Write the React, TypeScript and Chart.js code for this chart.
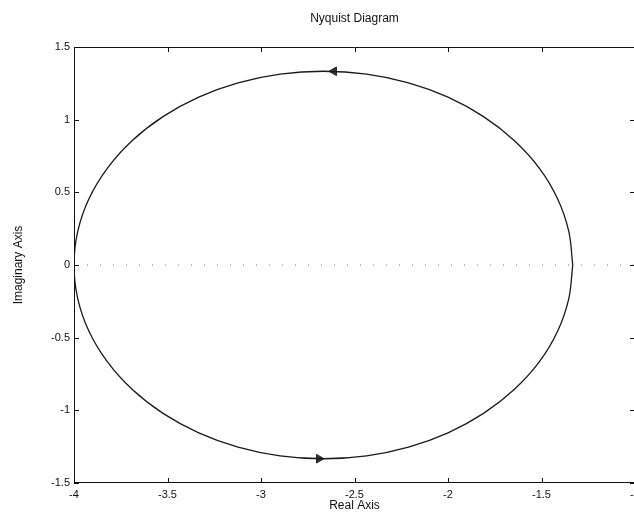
import React, { useEffect, useRef } from "react";
import { Chart, registerables } from "chart.js";

Chart.register(...registerables);

// Nyquist curve (counter-clockwise loop)
const realPart = [
  -1.333, -1.354, -1.414, -1.512, -1.646, -1.81, -2.0, -2.211, -2.435, -2.667,
  -2.898, -3.123, -3.333, -3.524, -3.688, -3.821, -3.92, -3.98, -4.0,
  -3.98, -3.92, -3.821, -3.688, -3.524, -3.333, -3.123, -2.898, -2.667,
  -2.435, -2.211, -2.0, -1.81, -1.646, -1.512, -1.414, -1.354, -1.333,
];
const imagPart = [
  0, 0.231, 0.456, 0.667, 0.857, 1.021, 1.155, 1.253, 1.313, 1.333,
  1.313, 1.253, 1.155, 1.021, 0.857, 0.667, 0.456, 0.231, 0,
  -0.231, -0.456, -0.667, -0.857, -1.021, -1.155, -1.253, -1.313, -1.333,
  -1.313, -1.253, -1.155, -1.021, -0.857, -0.667, -0.456, -0.231, 0,
];
const arrowReal = [-2.61, -2.69];
const arrowImag = [1.333, -1.333];
const arrowRotation = [-90, 90];
const zeroLineReal = [-4, -1];
const zeroLineImag = [0, 0];
const xTicks = [-4, -3.5, -3, -2.5, -2, -1.5, -1];
const yTicks = [-1.5, -1, -0.5, 0, 0.5, 1, 1.5];
const titleText = "Nyquist Diagram";

const FONT = "'Liberation Sans', Arial, Helvetica, sans-serif";

const boxPlugin = {
  id: "matlabBox",
  afterDatasetsDraw(chart: any) {
    const { ctx, chartArea } = chart;
    const { left, right, top, bottom } = chartArea;
    const xs = chart.scales.x;
    const ys = chart.scales.y;
    const len = 5;
    ctx.save();
    ctx.strokeStyle = "#111";
    ctx.lineWidth = 1;
    ctx.beginPath();
    ctx.rect(left + 0.5, top + 0.5, right - left - 1, bottom - top - 1);
    ctx.stroke();
    ctx.beginPath();
    xTicks.forEach((v) => {
      const px = Math.round(xs.getPixelForValue(v)) + 0.5;
      ctx.moveTo(px, bottom);
      ctx.lineTo(px, bottom - len);
      ctx.moveTo(px, top);
      ctx.lineTo(px, top + len);
    });
    yTicks.forEach((v) => {
      const py = Math.round(ys.getPixelForValue(v)) + 0.5;
      ctx.moveTo(left, py);
      ctx.lineTo(left + len, py);
      ctx.moveTo(right, py);
      ctx.lineTo(right - len, py);
    });
    ctx.stroke();
    // title centred over the plot box
    ctx.fillStyle = "#111";
    ctx.font = `12px ${FONT}`;
    ctx.textAlign = "center";
    ctx.textBaseline = "middle";
    ctx.fillText(titleText, (left + right) / 2, 11);
    ctx.restore();
  },
};

export default function App() {
  const ref = useRef<HTMLCanvasElement | null>(null);

  useEffect(() => {
    document.documentElement.style.overflow = "hidden";
    document.body.style.width = "626px";
    const canvas = ref.current;
    if (!canvas) return;
    const curve = realPart.map((x, i) => ({ x, y: imagPart[i] }));
    const arrows = arrowReal.map((x, i) => ({ x, y: arrowImag[i] }));
    const zero = zeroLineReal.map((x, i) => ({ x, y: zeroLineImag[i] }));

    const chart = new Chart(canvas, {
      type: "scatter",
      data: {
        datasets: [
          {
            data: zero,
            showLine: true,
            borderColor: "#777",
            borderWidth: 1,
            borderDash: [1, 12],
            pointRadius: 0,
          },
          {
            data: curve,
            showLine: true,
            borderColor: "#1a1a1a",
            borderWidth: 1.3,
            tension: 0.35,
            pointRadius: 0,
          },
          {
            data: arrows,
            showLine: false,
            pointStyle: "triangle",
            rotation: arrowRotation,
            pointRadius: 5,
            backgroundColor: "#333",
            borderColor: "#222",
            borderWidth: 1,
          },
        ],
      } as any,
      options: {
        animation: false,
        responsive: false,
        devicePixelRatio: 1,
        layout: { padding: { top: 39, left: 0, right: 14, bottom: 0 }, autoPadding: false },
        plugins: {
          legend: { display: false },
          tooltip: { enabled: false },
          title: { display: false },
        },
        scales: {
          x: {
            type: "linear",
            min: -4,
            max: -1,
            afterBuildTicks: (s: any) => {
              s.ticks = xTicks.map((v) => ({ value: v }));
            },
            afterFit: (s: any) => {
              s.height = 33;
              s.paddingLeft = 0;
              s.paddingRight = 0;
            },
            grid: { display: false, drawTicks: false },
            border: { display: false },
            ticks: {
              padding: 5,
              color: "#111",
              maxRotation: 0,
              autoSkip: false,
              font: { family: FONT, size: 11 },
              callback: (v: any) => String(v),
            },
            title: {
              display: true,
              text: "Real Axis",
              color: "#111",
              font: { family: FONT, size: 12 },
              padding: { top: 0, bottom: 3 },
            },
          },
          y: {
            type: "linear",
            min: -1.5,
            max: 1.5,
            afterBuildTicks: (s: any) => {
              s.ticks = yTicks.map((v) => ({ value: v }));
            },
            afterFit: (s: any) => {
              s.width = 66;
              s.paddingTop = 0;
              s.paddingBottom = 0;
            },
            grid: { display: false, drawTicks: false },
            border: { display: false },
            ticks: {
              padding: 4,
              color: "#111",
              autoSkip: false,
              font: { family: FONT, size: 11 },
              callback: (v: any) => String(v),
            },
            title: {
              display: true,
              text: "Imaginary Axis",
              color: "#111",
              font: { family: FONT, size: 12 },
              padding: { top: 3, bottom: 0 },
            },
          },
        },
      } as any,
      plugins: [boxPlugin],
    });
    return () => chart.destroy();
  }, []);

  return (
    <div style={{ width: 626, height: 508, overflow: "hidden", background: "#fff" }}>
      <canvas ref={ref} width={641} height={508} style={{ display: "block" }} />
    </div>
  );
}
